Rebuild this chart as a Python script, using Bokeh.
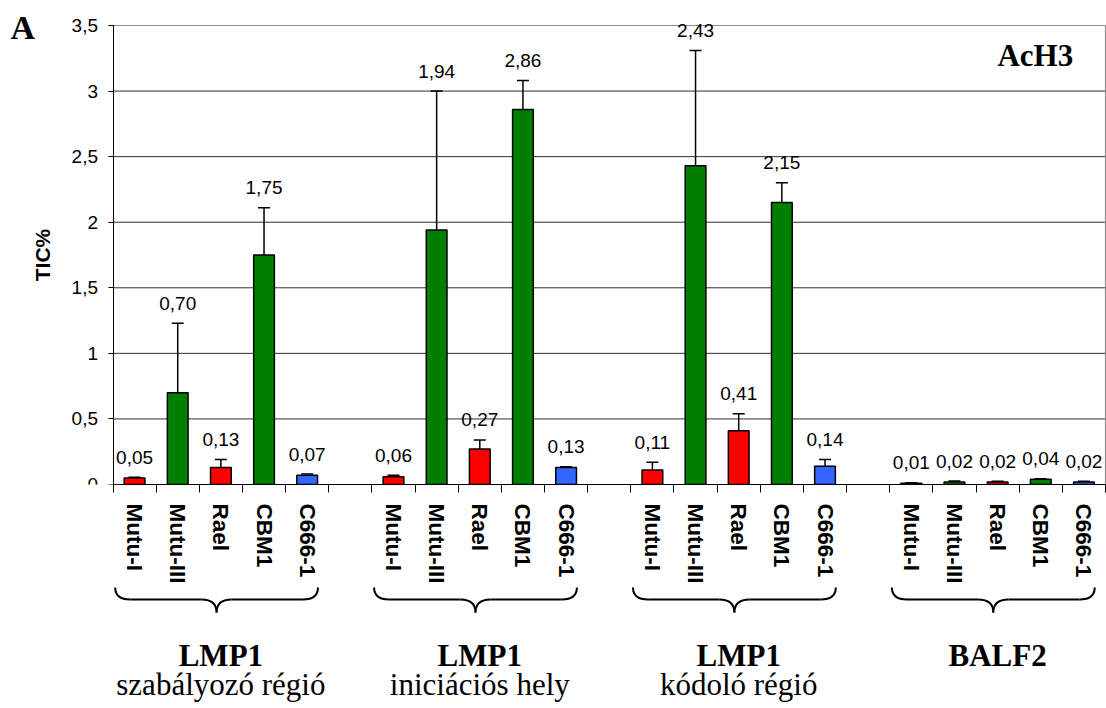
from bokeh.plotting import figure
from bokeh.models import Range1d, FixedTicker, Whisker, TeeHead, ColumnDataSource
from bokeh.layouts import column
from bokeh.core.properties import value
from bokeh.embed import file_html
from bokeh.resources import INLINE

# ---------------- data ----------------
cell_lines = ["Mutu-I", "Mutu-III", "Rael", "CBM1", "C666-1"]
cell_colors = ["#FF0000", "#007F00", "#FF0000", "#007F00", "#3366FF"]
group_names = ["LMP1", "LMP1", "LMP1", "BALF2"]
group_subtitles = ["szabályozó régió", "iniciációs hely", "kódoló régió", ""]

vals_lmp1_reg = [0.05, 0.70, 0.13, 1.75, 0.07]
vals_lmp1_init = [0.06, 1.94, 0.27, 2.86, 0.13]
vals_lmp1_cod = [0.11, 2.43, 0.41, 2.15, 0.14]
vals_balf2 = [0.01, 0.02, 0.02, 0.04, 0.02]

err_lmp1_reg = [0.005, 0.53, 0.06, 0.36, 0.01]
err_lmp1_init = [0.01, 1.06, 0.07, 0.22, 0.005]
err_lmp1_cod = [0.06, 0.88, 0.13, 0.15, 0.05]
err_balf2 = [0.004, 0.006, 0.004, 0.004, 0.004]

y_ticks = [0, 0.5, 1, 1.5, 2, 2.5, 3, 3.5]
y_tick_labels = ["0", "0,5", "1", "1,5", "2", "2,5", "3", "3,5"]

panel_tag = "A"
mark_name = "AcH3"
y_title = "TIC%"

all_vals = [vals_lmp1_reg, vals_lmp1_init, vals_lmp1_cod, vals_balf2]
all_errs = [err_lmp1_reg, err_lmp1_init, err_lmp1_cod, err_balf2]

# ---------------- derived ----------------
STRIDE = 6  # 5 bars + 1 empty slot per group
n_slots = STRIDE * len(group_names) - 1
Y_MAX = 3.5

xs, tops, uppers, colors, labels, names = [], [], [], [], [], []
for g, (vals, errs) in enumerate(zip(all_vals, all_errs)):
    for j, (v, e) in enumerate(zip(vals, errs)):
        xs.append(g * STRIDE + j + 0.5)
        tops.append(v)
        uppers.append(v + e)
        colors.append(cell_colors[j])
        labels.append(f"{v:.2f}".replace(".", ","))
        names.append(cell_lines[j])

src = ColumnDataSource(dict(x=xs, top=tops, upper=uppers, color=colors, label=labels))

SANS = "Liberation Sans"
SERIF = "Liberation Serif"

# ---------------- layout geometry (pixels) ----------------
W = 1106
AX_LEFT_PX = 112.5      # where the value axis sits
AX_RIGHT_PX = 1105.0    # right edge of the plotting box
TOP_PX = 25.0           # where 3.5 sits
FRAME_H = 484           # where 0 sits (frame starts at canvas top)
slot_px = (AX_RIGHT_PX - AX_LEFT_PX) / n_slots
x_lo = -AX_LEFT_PX / slot_px
x_hi = n_slots + (W - AX_RIGHT_PX) / slot_px
y_hi = Y_MAX * FRAME_H / (FRAME_H - TOP_PX)
px_per_y = FRAME_H / y_hi

# ---------------- main chart ----------------
p1 = figure(frame_width=W, frame_height=FRAME_H,
            x_range=Range1d(x_lo, x_hi), y_range=Range1d(0, y_hi),
            output_backend="svg", toolbar_location=None,
            min_border_left=0, min_border_right=0, min_border_top=0, min_border_bottom=100,
            background_fill_color="white", border_fill_color="white")
p1.outline_line_color = None
p1.grid.visible = False

yax = p1.yaxis[0]
yax.fixed_location = 0
yax.bounds = (0, Y_MAX)
yax.ticker = FixedTicker(ticks=y_ticks)
yax.major_label_overrides = {t: s for t, s in zip(y_ticks, y_tick_labels)}
yax.major_label_text_font = SANS
yax.major_label_text_font_size = "19px"
yax.major_label_text_color = "black"
yax.major_label_standoff = 10
yax.major_tick_out = 5
yax.major_tick_in = 0
yax.minor_tick_line_color = None
yax.axis_line_color = "black"
yax.axis_label = y_title
yax.axis_label_text_font = SANS
yax.axis_label_text_font_style = "bold"
yax.axis_label_text_font_size = "21px"
yax.axis_label_text_color = "black"
yax.axis_label_standoff = 15

xax = p1.xaxis[0]
xax.bounds = (0, n_slots)
xax.ticker = FixedTicker(ticks=xs, minor_ticks=list(range(n_slots + 1)))
xax.major_label_overrides = {x: n for x, n in zip(xs, names)}
xax.major_label_orientation = "vertical"
xax.major_label_text_font = SANS
xax.major_label_text_font_style = "bold"
xax.major_label_text_font_size = "22.5px"
xax.major_label_text_color = "black"
xax.major_tick_line_color = None
xax.major_tick_out = 8
xax.major_tick_in = 0
xax.minor_tick_line_color = "black"
xax.minor_tick_out = 8
xax.minor_tick_in = 0
xax.major_label_standoff = 11
xax.axis_line_color = "black"

# horizontal gridlines (limited to the plotting box) and the grey box edges
grid_y = [t for t in y_ticks if 0 < t < Y_MAX]
p1.segment(x0=[0] * len(grid_y), y0=grid_y, x1=[n_slots] * len(grid_y), y1=grid_y,
           line_color="#303030", line_width=1)
p1.segment(x0=[0, n_slots], y0=[Y_MAX, 0], x1=[n_slots, n_slots], y1=[Y_MAX, Y_MAX],
           line_color="#8c8c8c", line_width=1.2)

p1.add_layout(Whisker(base="x", upper="upper", lower="top", source=src,
                      lower_head=None,
                      upper_head=TeeHead(size=12, line_color="black", line_width=1.5),
                      line_color="black", line_width=1.5, level="glyph"))

p1.vbar(x="x", top="top", bottom=0, width=0.48, source=src,
        fill_color="color", line_color="black", line_width=1.5)

p1.text(x="x", y="upper", text="label", source=src,
        text_align="center", text_baseline="middle", y_offset=-20,
        text_font=value(SANS), text_font_size="19px", text_color="black")

p1.text(x=[n_slots - 0.75], y=[3.27], text=[mark_name],
        text_align="right", text_baseline="middle",
        text_font=value(SERIF), text_font_style="bold",
        text_font_size="31px", text_color="black")

p1.text(x=[x_lo + 10 / slot_px], y=[y_hi - 27 / px_per_y], text=[panel_tag],
        text_align="left", text_baseline="alphabetic",
        text_font=value(SERIF), text_font_style="bold",
        text_font_size="34px", text_color="black")

# ---------------- braces + group titles ----------------
P2_H = 708 - (FRAME_H + 100)
p2 = figure(frame_width=W, frame_height=P2_H,
            x_range=p1.x_range, y_range=Range1d(-P2_H, 0),
            output_backend="svg", toolbar_location=None,
            x_axis_type=None, y_axis_type=None,
            min_border_left=0, min_border_right=0, min_border_top=0, min_border_bottom=0,
            background_fill_color="white", border_fill_color="white")
p2.outline_line_color = None
p2.grid.visible = False

r = 0.35
y_end, y_mid, y_tip = -1, -13, -26
qx0, qy0, qx1, qy1, qcx, qcy = [], [], [], [], [], []
sx0, sx1 = [], []
for g in range(len(group_names)):
    xl = g * STRIDE + 0.05
    xr = g * STRIDE + 4.75
    xm = (xl + xr) / 2
    for (a, b, c) in [((xl, y_end), (xl + r, y_mid), (xl, y_mid)),
                      ((xm - r, y_mid), (xm, y_tip), (xm, y_mid)),
                      ((xm, y_tip), (xm + r, y_mid), (xm, y_mid)),
                      ((xr - r, y_mid), (xr, y_end), (xr, y_mid))]:
        qx0.append(a[0]); qy0.append(a[1])
        qx1.append(b[0]); qy1.append(b[1])
        qcx.append(c[0]); qcy.append(c[1])
    sx0 += [xl + r, xm + r]
    sx1 += [xm - r, xr - r]

p2.quadratic(x0=qx0, y0=qy0, x1=qx1, y1=qy1, cx=qcx, cy=qcy,
             line_color="black", line_width=2)
p2.segment(x0=sx0, y0=[y_mid] * len(sx0), x1=sx1, y1=[y_mid] * len(sx1),
           line_color="black", line_width=2)

gx = [g * STRIDE + 2.5 for g in range(len(group_names))]
p2.text(x=gx, y=[-69] * len(gx), text=group_names,
        text_align="center", text_baseline="alphabetic",
        text_font=value(SERIF), text_font_style="bold",
        text_font_size="31px", text_color="black")
p2.text(x=gx, y=[-98] * len(gx), text=group_subtitles,
        text_align="center", text_baseline="alphabetic",
        text_font=value(SERIF), text_font_size="31px", text_color="black")

layout = column(p1, p2, spacing=0)
open("out.html", "w").write(file_html(layout, INLINE))
